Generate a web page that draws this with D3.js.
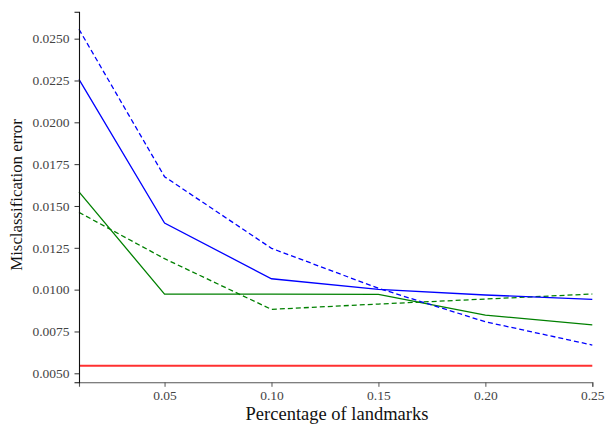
<!DOCTYPE html>
<html><head><meta charset="utf-8">
<script src="https://cdn.jsdelivr.net/npm/d3@7"></script>
<style>body{margin:0;background:#fff} svg text{font-family:"Liberation Serif","DejaVu Serif",serif !important;}</style>
</head><body>
<svg id="c" width="606" height="425"></svg>
<script>
const xs = [0.01, 0.05, 0.10, 0.15, 0.20, 0.25];
const blueSolid  = [0.02257, 0.01398, 0.01065, 0.01002, 0.00968, 0.00942];
const blueDashed = [0.02556, 0.01675, 0.01247, 0.01008, 0.00808, 0.00669];
const greenSolid = [0.01584, 0.00973, 0.00973, 0.00972, 0.00848, 0.00790];
const greenDashed= [0.01462, 0.01185, 0.00882, 0.00914, 0.00944, 0.00974];
const redBase    = [0.00545, 0.00545, 0.00545, 0.00545, 0.00545, 0.00545];
const xTicks = [0.05, 0.10, 0.15, 0.20, 0.25];
const yTicks = [0.0050, 0.0075, 0.0100, 0.0125, 0.0150, 0.0175, 0.0200, 0.0225, 0.0250];
const xLabel = "Percentage of landmarks";
const yLabel = "Misclassification error";

const series = [
  {v: redBase, color: "#ff3030", w: 1.8, dash: null},
  {v: greenSolid, color: "#008000", w: 1.3, dash: null},
  {v: greenDashed, color: "#008000", w: 1.3, dash: "5,3"},
  {v: blueSolid, color: "#0000ff", w: 1.3, dash: null},
  {v: blueDashed, color: "#0000ff", w: 1.3, dash: "5,3"}
];

const L = 79, R = 592.3, T = 11.7, B = 382.3;
const svg = d3.select("#c");
const x = d3.scaleLinear().domain([0.01, 0.25]).range([L, R]);
const y = d3.scaleLinear().domain([0.005, 0.0075]).range([373.3, 331.47]);
const yTop = y.invert(T), yBot = y.invert(B);
y.domain([yBot, yTop]).range([B, T]);

const line = d3.line().x((d,i)=>x(xs[i])).y(d=>y(d));
series.forEach(s=>{
  svg.append("path").attr("d", line(s.v)).attr("fill","none")
    .attr("stroke", s.color).attr("stroke-width", s.w)
    .attr("stroke-dasharray", s.dash);
});

const gx = svg.append("g").attr("transform",`translate(0,${B})`)
  .call(d3.axisBottom(x).tickValues(xTicks).tickFormat(d3.format(".2f")).tickSize(4.5).tickPadding(3.4));
gx.attr("font-family", null).attr("font-size", null);
gx.select(".domain").attr("stroke","#555").attr("stroke-width",1.1);
gx.selectAll(".tick line").attr("stroke","#555");
gx.selectAll("text").style("font-size","13.5px").attr("fill","#444");

const gy = svg.append("g").attr("transform",`translate(${L},0)`)
  .call(d3.axisLeft(y).tickValues(yTicks).tickFormat(d3.format(".4f")).tickSize(4.5).tickPadding(5));
gy.attr("font-family", null).attr("font-size", null);
gy.select(".domain").attr("stroke","#111").attr("stroke-width",1.1);
gy.selectAll(".tick line").attr("stroke","#333");
gy.selectAll("text").style("font-size","13.5px").attr("fill","#444");

svg.append("text").attr("x",337).attr("y",420).attr("text-anchor","middle")
  .style("font-size","18.5px").attr("fill","#111").text(xLabel);
svg.append("text").attr("transform",`translate(22,195) rotate(-90)`).attr("text-anchor","middle")
  .style("font-size","16.8px").attr("fill","#111").text(yLabel);
</script>
</body></html>
